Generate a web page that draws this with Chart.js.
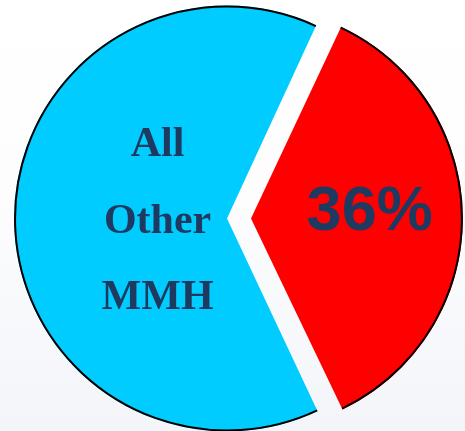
<!DOCTYPE html>
<html>
<head>
<meta charset="utf-8">
<script src="https://cdn.jsdelivr.net/npm/chart.js@4/dist/chart.umd.min.js"></script>
<style>
  html, body { margin: 0; padding: 0; }
  body {
    width: 465px; height: 431px; overflow: hidden;
    background: linear-gradient(to bottom, #ffffff 0%, #fdfdfe 45%, #f3f5f9 100%);
  }
  #wrap { position: relative; width: 465px; height: 431px; }
</style>
</head>
<body>
<div id="wrap"><canvas id="pie" width="465" height="431"></canvas></div>
<script>
// Share of MMH: the highlighted slice versus everything else
const categories = ['36%', 'All Other MMH'];
const shares = [36, 64];
const sliceColors = ['#ff0000', '#00ccff'];
const sliceOffsets = [74.6, 21.4];
const labelColor = '#1f3a60';

// Geometry of an arc as Chart.js paints it once its `offset` option is applied
// (shifted by offset/4 along the mid angle, radius grown by the same rule)
function paintedArc(arc) {
  const p = arc.getProps(['x', 'y', 'startAngle', 'endAngle', 'outerRadius', 'circumference'], true);
  const off = (arc.options.offset || 0) / 4;
  const fix = 1 - Math.sin(Math.min(Math.PI, p.circumference || 0));
  const radiusOffset = off * fix;
  const r = p.outerRadius + radiusOffset;
  const alpha = p.endAngle - p.startAngle;
  const beta = Math.max(0.001, alpha * r - radiusOffset / Math.PI) / r;
  const trim = (alpha - beta) / 2;
  const half = (p.startAngle + p.endAngle) / 2;
  return {
    x: p.x + Math.cos(half) * off,
    y: p.y + Math.sin(half) * off,
    r: r,
    start: p.startAngle + trim,
    end: p.endAngle - trim
  };
}

// Stroke only the outer rim of each slice (the radial edges stay unbordered)
const rimOutline = {
  id: 'rimOutline',
  afterDatasetsDraw(chart) {
    const ctx = chart.ctx;
    chart.getDatasetMeta(0).data.forEach(arc => {
      const c = paintedArc(arc);
      ctx.save();
      ctx.beginPath();
      ctx.arc(c.x, c.y, c.r - 1, c.start, c.end);
      ctx.strokeStyle = '#000000';
      ctx.lineWidth = 2;
      ctx.stroke();
      ctx.restore();
    });
  }
};

// Text inside the slices
const sliceText = {
  id: 'sliceText',
  afterDatasetsDraw(chart) {
    const ctx = chart.ctx;
    const arcs = chart.getDatasetMeta(0).data;
    ctx.save();
    ctx.fillStyle = labelColor;
    ctx.textAlign = 'center';
    ctx.textBaseline = 'alphabetic';

    // highlighted slice: its percentage
    const red = paintedArc(arcs[0]);
    ctx.font = 'bold 63px "Liberation Sans", Arial, sans-serif';
    ctx.fillText(shares[0] + '%', red.x + red.r * 0.56, red.y + red.r * 0.055);

    // the remaining slice: stacked name
    const cyan = paintedArc(arcs[1]);
    ctx.font = 'bold 42px "Liberation Serif", "Times New Roman", serif';
    const words = categories[1].split(' ');
    const cx = cyan.x - cyan.r * 0.326;
    const baseY = cyan.y - cyan.r * 0.293;
    words.forEach((w, i) => ctx.fillText(w, cx, baseY + i * 76.5));
    ctx.restore();
  }
};

new Chart(document.getElementById('pie'), {
  type: 'pie',
  data: {
    labels: categories,
    datasets: [{
      data: shares,
      backgroundColor: sliceColors,
      borderWidth: 0,
      offset: sliceOffsets,
      radius: 207.6
    }]
  },
  options: {
    responsive: false,
    animation: false,
    rotation: 25,
    layout: { padding: { left: 0, right: 0.3, top: 6, bottom: 0 } },
    plugins: {
      legend: { display: false },
      tooltip: { enabled: false }
    },
    events: []
  },
  plugins: [rimOutline, sliceText]
});
</script>
</body>
</html>
